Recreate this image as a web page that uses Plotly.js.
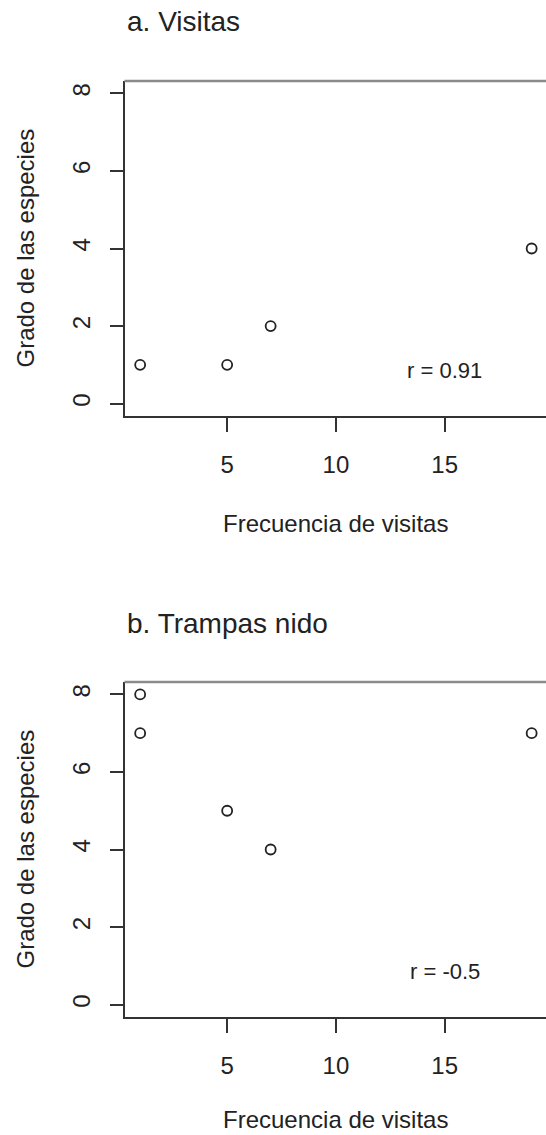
<!DOCTYPE html>
<html>
<head>
<meta charset="utf-8">
<script src="https://cdn.plot.ly/plotly-3.0.1.min.js"></script>
<style>html,body{margin:0;padding:0;background:#fff;overflow:hidden;}#chart{width:546px;height:1135px;}</style>
</head>
<body>
<div id="chart"></div>
<script>
// Data
const visitsX = [1, 5, 7, 19];
const visitsY = [1, 1, 2, 4];
const trapsX = [1, 1, 5, 7, 19];
const trapsY = [8, 7, 5, 4, 7];
const panelTitles = ["a. Visitas", "b. Trampas nido"];
const rLabels = ["r = 0.91", "r = -0.5"];
const xTitle = "Frecuencia de visitas";
const yTitle = "Grado de las especies";
const xTicks = [5, 10, 15];
const yTicks = [0, 2, 4, 6, 8];

const W = 546, H = 1135;
const FONT = '"Liberation Sans", Arial, Helvetica, sans-serif';
const INK = '#222';
// plot boxes in pixels
const boxA = {top: 81, bottom: 416, xtOff: 107};
const boxB = {top: 682, bottom: 1017, xtOff: 102};
const left = 124.5;
const py = p => 1 - p / H;

const marker = {symbol: 'circle-open', size: 10, color: INK, line: {width: 1.8, color: INK}};
const traces = [
  {x: visitsX, y: visitsY, type: 'scatter', mode: 'markers', marker: marker, xaxis: 'x', yaxis: 'y', hoverinfo: 'x+y'},
  {x: trapsX, y: trapsY, type: 'scatter', mode: 'markers', marker: marker, xaxis: 'x2', yaxis: 'y2', hoverinfo: 'x+y'}
];

function xa(anchor) {
  return {
    domain: [left / W, 1], range: [0.28, 19.66], anchor: anchor,
    tickmode: 'array', tickvals: xTicks, ticktext: xTicks.map(String),
    ticks: 'outside', ticklen: 14, tickwidth: 2, tickcolor: '#333',
    ticklabelstandoff: 12,
    showline: true, linecolor: '#333', linewidth: 2,
    showgrid: false, zeroline: false,
    tickfont: {family: FONT, size: 24, color: INK}
  };
}
function ya(anchor, box) {
  return {
    domain: [py(box.bottom), py(box.top)], range: [-0.32, 8.32], anchor: anchor,
    tickmode: 'array', tickvals: yTicks, ticktext: yTicks.map(String),
    ticks: 'outside', ticklen: 13, tickwidth: 2, tickcolor: '#333',
    tickangle: -90, ticklabelstandoff: 10,
    showline: true, linecolor: '#333', linewidth: 2,
    showgrid: false, zeroline: false,
    tickfont: {family: FONT, size: 24, color: INK}
  };
}

const annotations = [];
const shapes = [];
[[boxA, 'x', 'y'], [boxB, 'x2', 'y2']].forEach(([box, xr, yr], i) => {
  annotations.push({text: panelTitles[i], xref: 'paper', yref: 'paper', x: left / W, y: py(box.top - 59),
    xanchor: 'left', yanchor: 'middle', showarrow: false, font: {family: FONT, size: 28, color: INK}});
  annotations.push({text: xTitle, xref: 'paper', yref: 'paper', x: (left + W) / 2 / W, y: py(box.bottom + box.xtOff),
    xanchor: 'center', yanchor: 'middle', showarrow: false, font: {family: FONT, size: 24, color: INK}});
  annotations.push({text: yTitle, xref: 'paper', yref: 'paper', x: 25 / W, y: py((box.top + box.bottom) / 2),
    xanchor: 'center', yanchor: 'middle', textangle: -90, showarrow: false, font: {family: FONT, size: 24, color: INK}});
  annotations.push({text: rLabels[i], xref: xr, yref: yr, x: 15, y: 0.85,
    xanchor: 'center', yanchor: 'middle', showarrow: false, font: {family: FONT, size: 22, color: INK}});
  shapes.push({type: 'line', xref: 'paper', yref: 'paper', x0: left / W, x1: 1, y0: py(box.top), y1: py(box.top),
    line: {color: '#8a8a8a', width: 2.5}});
});

const layout = {
  width: W, height: H,
  margin: {l: 0, r: 0, t: 0, b: 0},
  paper_bgcolor: '#fff', plot_bgcolor: '#fff',
  showlegend: false,
  xaxis: xa('y'), yaxis: ya('x', boxA),
  xaxis2: xa('y2'), yaxis2: ya('x2', boxB),
  annotations: annotations, shapes: shapes
};

Plotly.newPlot('chart', traces, layout, {displayModeBar: false, staticPlot: true});
</script>
</body>
</html>
